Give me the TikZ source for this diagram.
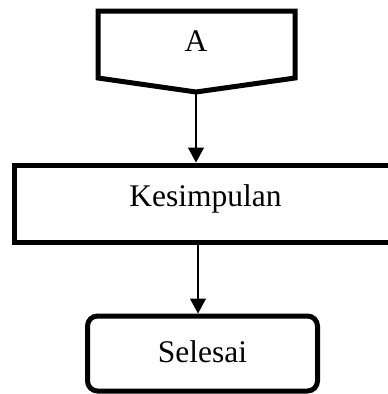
\documentclass[tikz,border=0pt]{standalone}
\usepackage{fontspec}
\setmainfont{Liberation Serif}
\usetikzlibrary{arrows.meta}
\begin{document}
\begin{tikzpicture}[x=1pt,y=-1pt,
  boxline/.style={draw=black,line width=5pt},
  procbox/.style={boxline,rectangle,inner sep=0pt,font=\fontsize{31.5}{36}\selectfont},
  endbox/.style={boxline,rectangle,rounded corners=10pt,inner sep=0pt,font=\fontsize{31.5}{36}\selectfont},
  labeltext/.style={font=\fontsize{31.5}{36}\selectfont,inner sep=0pt},
  arr/.style={line width=1.3pt,-{Triangle[width=16pt,length=15pt]}}]
\clip (0,0) rectangle (388,394);
% off-page connector A
\draw[boxline] (98,11) -- (295,11) -- (295,78) -- (196,92) -- (98,78) -- cycle;
\coordinate (apoint) at (196,94);
\node[labeltext,anchor=base] (a) at (196,51.7) {A};
% Kesimpulan
\node[procbox,minimum width=383pt,minimum height=77.5pt,text height=22pt,text depth=16pt] (kes) at (205.5,203.75) {Kesimpulan};
% Selesai
\node[endbox,minimum width=230pt,minimum height=75pt,text height=22pt,text depth=5pt] (sel) at (202.5,353.5) {Selesai};
% connectors
\coordinate (c1) at (196,0);
\coordinate (c2) at (198,0);
\draw[arr] (apoint) -- (kes.north -| c1);
\draw[arr] (kes.south -| c2) -- (sel.north -| c2);
\end{tikzpicture}
\end{document}
